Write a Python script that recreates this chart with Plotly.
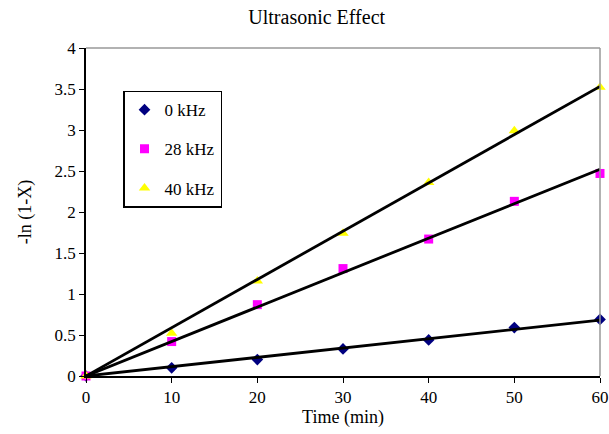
import numpy as np
import plotly.graph_objects as go

time_min = [0, 10, 20, 30, 40, 50, 60]
khz0 = [0, 0.10, 0.20, 0.33, 0.44, 0.59, 0.69]
khz28 = [0, 0.42, 0.87, 1.31, 1.67, 2.13, 2.47]
khz40 = [0, 0.52, 1.16, 1.74, 2.36, 2.99, 3.52]
names = ["0 kHz", "28 kHz", "40 kHz"]
colors = ["#000080", "#FF00FF", "#FFFF00"]
symbols = ["diamond", "square", "triangle-up"]
sizes = [9, 9, 10]
series = [khz0, khz28, khz40]

fig = go.Figure()
t = np.array(time_min, dtype=float)
for i, (nm, ys) in enumerate(zip(names, series)):
    fig.add_trace(go.Scatter(
        x=time_min, y=ys, mode="markers", name=nm,
        legendgroup=nm, cliponaxis=False,
        marker=dict(symbol=symbols[i], color=colors[i], size=sizes[i], line=dict(width=0)),
    ))
for i, ys in enumerate(series):
    y = np.array(ys, dtype=float)
    slope = float((t * y).sum() / (t * t).sum())
    fig.add_trace(go.Scatter(
        x=[0, 60], y=[0, slope * 60], mode="lines", showlegend=False,
        line=dict(color="black", width=2.8), hoverinfo="skip",
    ))

font = "Times New Roman, Liberation Serif, serif"
fig.update_layout(
    width=609, height=434,
    margin=dict(l=86, r=9, t=48, b=58),
    paper_bgcolor="white", plot_bgcolor="white",
    font=dict(family=font, size=17, color="black"),
    title=dict(text="Ultrasonic Effect", x=0.52, xanchor="center", y=0.978, yanchor="top",
               font=dict(family=font, size=20, color="black")),
    showlegend=True,
    legend=dict(
        x=0.072, y=0.87, xanchor="left", yanchor="top",
        bordercolor="black", borderwidth=1.5, bgcolor="white",
        font=dict(family=font, size=17, color="black"),
        tracegroupgap=14, itemwidth=30,
    ),
    xaxis=dict(
        range=[0, 60], tickmode="array", tickvals=time_min,
        ticks="outside", ticklen=5, tickcolor="black",
        showline=True, linecolor="black", linewidth=1.5, mirror=False,
        showgrid=False, zeroline=False, ticklabeloverflow="allow", automargin=False,
        title=dict(text="Time (min)", font=dict(family=font, size=18), standoff=4),
        tickfont=dict(family=font, size=17),
    ),
    yaxis=dict(
        range=[0, 4], tickmode="array", tickvals=[0, 0.5, 1, 1.5, 2, 2.5, 3, 3.5, 4],
        ticktext=["0", "0.5", "1", "1.5", "2", "2.5", "3", "3.5", "4"],
        ticks="outside", ticklen=5, tickcolor="black",
        showline=True, linecolor="black", linewidth=1.5,
        showgrid=False, zeroline=False, automargin=False,
        title=dict(text="-ln (1-X)", font=dict(family=font, size=18), standoff=18),
        tickfont=dict(family=font, size=17),
    ),
    shapes=[
        dict(type="line", xref="paper", yref="paper", x0=0, x1=1, y0=1, y1=1,
             line=dict(color="#999999", width=1.5)),
        dict(type="line", xref="paper", yref="paper", x0=1, x1=1, y0=0, y1=1,
             line=dict(color="#999999", width=1.5)),
    ],
)
fig.write_html("out.html")
